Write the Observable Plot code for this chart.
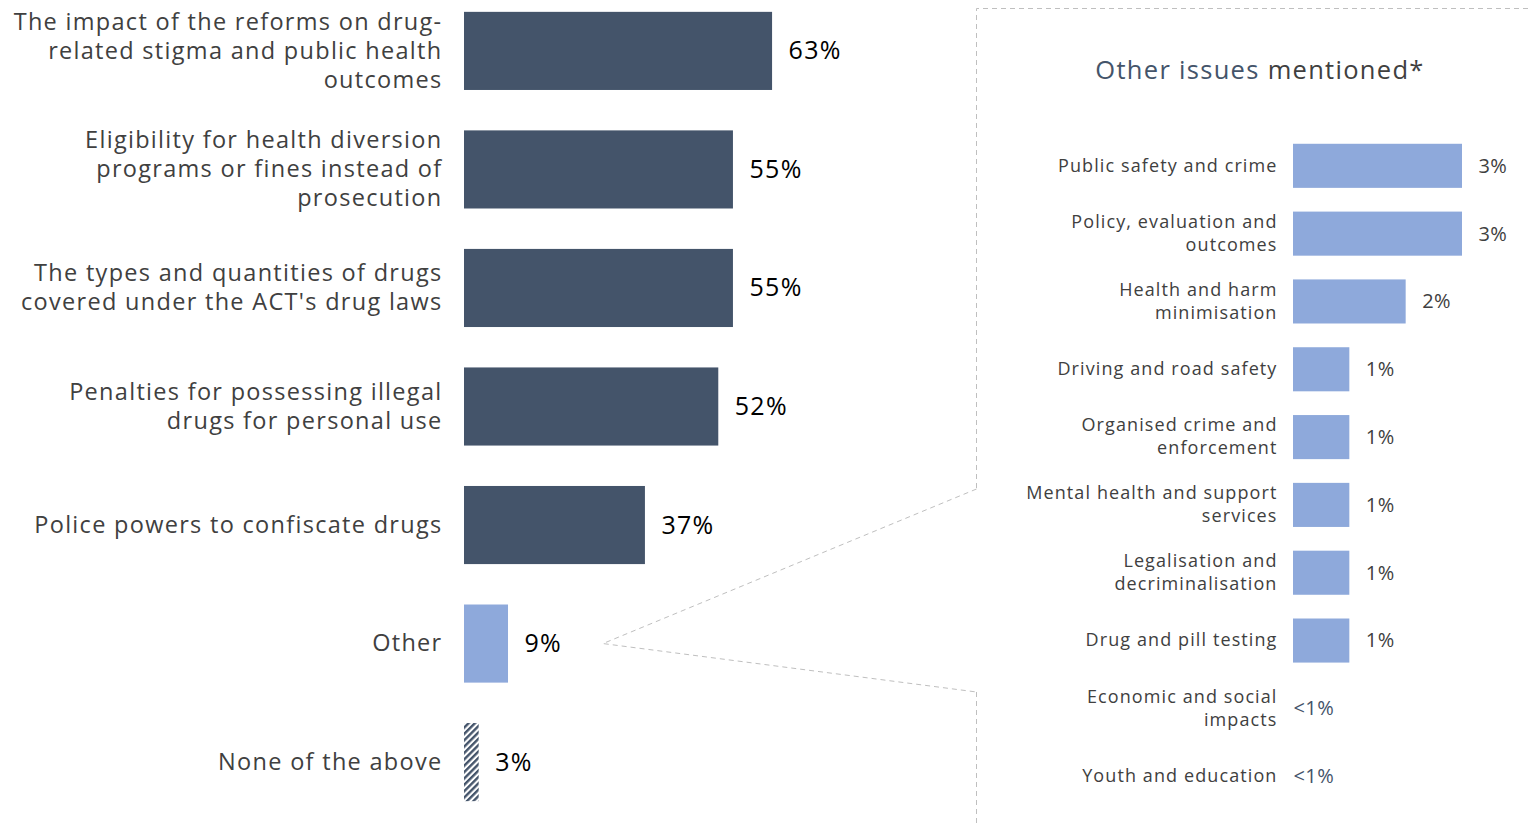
<!DOCTYPE html>
<html>
<head>
<meta charset="utf-8">
<script src="https://cdn.jsdelivr.net/npm/d3@7"></script>
<script src="https://cdn.jsdelivr.net/npm/@observablehq/plot@0.6"></script>
<style>
  body { margin: 0; background: #fff; }
  #wrap { position: relative; width: 1528px; height: 827px; overflow: hidden; font-family: "Open Sans", sans-serif; }
  #left, #right, #overlay, #title { position: absolute; top: 0; }
  #left { left: 0; }
  #right { left: 977px; }
  #overlay { left: 0; pointer-events: none; }
  #title { left: 977px; width: 566px; top: 53px; text-align: center; font-size: 25.5px; letter-spacing: 1.3px; line-height: 32px; color: #404040; }
  #right svg g[aria-label="text"].vals { letter-spacing: 0.4px; }
</style>
</head>
<body>
<div id="wrap">
  <div id="left"></div>
  <div id="right"></div>
  <div id="title"><span style="color:#44546A">Other issues</span> mentioned*</div>
  <svg id="overlay" width="1528" height="827"></svg>
</div>
<script>
// ---- Data ----
const categories = [
  "The impact of the reforms on drug-\nrelated stigma and public health\noutcomes",
  "Eligibility for health diversion\nprograms or fines instead of\nprosecution",
  "The types and quantities of drugs\ncovered under the ACT's drug laws",
  "Penalties for possessing illegal\ndrugs for personal use",
  "Police powers to confiscate drugs",
  "Other",
  "None of the above"
];
const values = [63, 55, 55, 52, 37, 9, 3];
const valueLabels = ["63%", "55%", "55%", "52%", "37%", "9%", "3%"];

const otherIssues = [
  "Public safety and crime",
  "Policy, evaluation and\noutcomes",
  "Health and harm\nminimisation",
  "Driving and road safety",
  "Organised crime and\nenforcement",
  "Mental health and support\nservices",
  "Legalisation and\ndecriminalisation",
  "Drug and pill testing",
  "Economic and social\nimpacts",
  "Youth and education"
];
const otherValues = [3, 3, 2, 1, 1, 1, 1, 1, 0, 0];
const otherLabels = ["3%", "3%", "2%", "1%", "1%", "1%", "1%", "1%", "<1%", "<1%"];

// ---- Build tables ----
const leftData = categories.map((c, i) => ({category: c, value: values[i], label: valueLabels[i], i}));
const rightData = otherIssues.map((c, i) => ({category: c, value: otherValues[i], label: otherLabels[i]}));

const DARK = "#44546A", LIGHT = "#8EA9DB", TEXT = "#404040";
const font = "'Open Sans', sans-serif";

const left = Plot.plot({
  width: 977, height: 827,
  marginLeft: 464, marginRight: 24, marginTop: 0, marginBottom: 14,
  style: {fontFamily: font, background: "transparent", letterSpacing: "1.3px"},
  x: {domain: [0, 100], axis: null},
  y: {domain: categories, paddingInner: 0.341, paddingOuter: 0.1, round: false, axis: null},
  marks: [
    Plot.barX(leftData.filter(d => d.i < 5), {x: "value", y: "category", fill: DARK}),
    Plot.barX(leftData.filter(d => d.category === "Other"), {x: "value", y: "category", fill: LIGHT}),
    Plot.barX(leftData.filter(d => d.category === "None of the above"), {x: "value", y: "category", fill: "url(#hatch)"}),
    Plot.text(leftData, {y: "category", text: "category", frameAnchor: "left", textAnchor: "end", dx: -22, dy: -2, fontSize: 23.5, lineHeight: 1.24, fill: TEXT}),
    Plot.text(leftData, {x: "value", y: "category", text: "label", textAnchor: "start", dx: 16, fontSize: 25, fill: "#000"})
  ]
});
document.getElementById("left").appendChild(left);

const right = Plot.plot({
  width: 551, height: 827,
  marginLeft: 316, marginRight: 66, marginTop: 137, marginBottom: 22,
  style: {fontFamily: font, background: "transparent", letterSpacing: "1.1px"},
  x: {domain: [0, 3], axis: null},
  y: {domain: otherIssues, paddingInner: 0.35, paddingOuter: 0.1, round: false, axis: null},
  marks: [
    Plot.barX(rightData.filter(d => d.value > 0), {x: "value", y: "category", fill: LIGHT}),
    Plot.text(rightData, {y: "category", text: "category", frameAnchor: "left", textAnchor: "end", dx: -16, dy: -2, fontSize: 18, lineHeight: 1.28, fill: TEXT}),
    Plot.text(rightData.filter(d => d.value > 0), {x: "value", y: "category", text: "label", textAnchor: "start", dx: 16, fontSize: 20, fill: TEXT, className: "vals"}),
    Plot.text(rightData.filter(d => d.value === 0), {x: "value", y: "category", text: "label", textAnchor: "start", dx: 0, fontSize: 20, fill: DARK, className: "vals"})
  ]
});
document.getElementById("right").appendChild(right);
right.querySelectorAll(".vals").forEach(g => g.setAttribute("letter-spacing", "0.4px"));
right.querySelectorAll(".vals").forEach(g => g.style.letterSpacing = "0.4px");

// ---- Overlay: hatch pattern, dashed panel frame and connectors ----
const ov = d3.select("#overlay");
const pat = ov.append("defs").append("pattern")
  .attr("id", "hatch").attr("patternUnits", "userSpaceOnUse")
  .attr("width", 4.5).attr("height", 4.5).attr("patternTransform", "rotate(45)");
pat.append("rect").attr("width", 4.5).attr("height", 4.5).attr("fill", "#fff");
pat.append("rect").attr("width", 2.4).attr("height", 4.5).attr("fill", DARK);

const ys = left.scale("y"), xs = left.scale("x");
const yOther = ys.apply("Other") + ys.bandwidth / 2;
const xStart = xs.apply(9) + 95;
const boxX = 976.5, boxTop = 8.5;
const yTopJoin = 489, yBotJoin = 692;
const dashed = {stroke: "#BFBFBF", "stroke-width": 1, "stroke-dasharray": "5 4", fill: "none"};
function path(d) {
  const p = ov.append("path").attr("d", d);
  for (const k in dashed) p.attr(k, dashed[k]);
}
path(`M1528,${boxTop}H${boxX}V${yTopJoin}`);
path(`M${boxX},${yBotJoin}V827`);
path(`M${boxX},${yTopJoin}L${xStart},${yOther}L${boxX},${yBotJoin}`);
</script>
</body>
</html>
